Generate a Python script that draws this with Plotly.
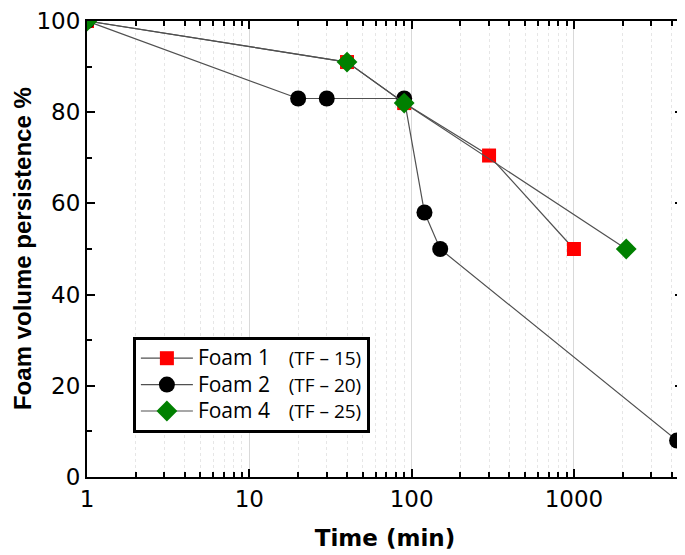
import plotly.graph_objects as go

# Data
foam1_t = [1, 40, 90, 300, 1000]
foam1_v = [100, 91, 82, 70.5, 50]
foam2_t = [1, 20, 30, 90, 120, 150, 4320]
foam2_v = [100, 83, 83, 83, 58, 50, 8]
foam4_t = [1, 40, 90, 2100]
foam4_v = [100, 91, 82, 50]

series_labels = ["Foam 1", "Foam 2", "Foam 4"]
tf_labels = ["(TF – 15)", "(TF – 20)", "(TF – 25)"]

xticks = [1, 10, 100, 1000]
xticklabels = ["1", "10", "100", "1000"]
yticks = [0, 20, 40, 60, 80, 100]

names = [
    f"<span style='font-size:21px'>{s}</span>\u00a0\u00a0\u00a0\u00a0<span style='font-size:19px'>{t}</span>"
    for s, t in zip(series_labels, tf_labels)
]

line_style = dict(color="#505050", width=1.2)

fig = go.Figure()
fig.add_trace(go.Scatter(x=foam1_t, y=foam1_v, mode="lines+markers", name=names[0],
                         line=line_style,
                         marker=dict(symbol="square", size=14, color="#ff0000")))
fig.add_trace(go.Scatter(x=foam2_t, y=foam2_v, mode="lines+markers", name=names[1],
                         line=line_style,
                         marker=dict(symbol="circle", size=16, color="#000000")))
fig.add_trace(go.Scatter(x=foam4_t, y=foam4_v, mode="lines+markers", name=names[2],
                         line=line_style,
                         marker=dict(symbol="diamond", size=16, color="#008000")))

fig.update_layout(
    width=677, height=547,
    margin=dict(l=79, r=2, t=13, b=78),
    paper_bgcolor="white", plot_bgcolor="white",
    font=dict(family="DejaVu Sans", color="black"),
    showlegend=True,
    legend=dict(
        x=0.077, y=0.307, xanchor="left", yanchor="top",
        bordercolor="black", borderwidth=3, bgcolor="white",
        font=dict(family="Open Sans", size=18, color="black"),
        tracegroupgap=0, itemwidth=52,
    ),
    annotations=[dict(
        text="<b>Foam volume persistence %</b>", xref="paper", yref="paper",
        x=-0.109, y=0.5, xanchor="center", yanchor="middle", textangle=-90,
        showarrow=False, font=dict(family="Liberation Sans", size=24, color="black"),
    )],
)

fig.update_xaxes(
    type="log", range=[0, 3.672], automargin=False,
    tickvals=xticks, ticktext=xticklabels, ticklabeloverflow="allow",
    ticks="inside", ticklen=8, tickwidth=2, tickcolor="black",
    showline=True, linecolor="black", linewidth=2, mirror="allticks",
    showgrid=True, gridcolor="#d9d9d9", gridwidth=1,
    minor=dict(ticks="inside", ticklen=5, tickwidth=1.5, tickcolor="black",
               showgrid=True, gridcolor="#e6e6e6", griddash="dot", dtick="D1"),
    tickfont=dict(family="DejaVu Sans", size=23),
    title=dict(text="<b>Time (min)</b>", font=dict(family="DejaVu Sans", size=23), standoff=19),
    zeroline=False,
)
fig.update_yaxes(
    range=[0, 100], automargin=False,
    tickvals=yticks, ticklabeloverflow="allow",
    ticks="inside", ticklen=8, tickwidth=2, tickcolor="black",
    showline=True, linecolor="black", linewidth=2, mirror="allticks",
    showgrid=False,
    minor=dict(ticks="inside", ticklen=5, tickwidth=1.5, tickcolor="black", dtick=10, showgrid=False),
    tickfont=dict(family="DejaVu Sans", size=23),
    zeroline=False,
)

fig.write_html("out.html")
